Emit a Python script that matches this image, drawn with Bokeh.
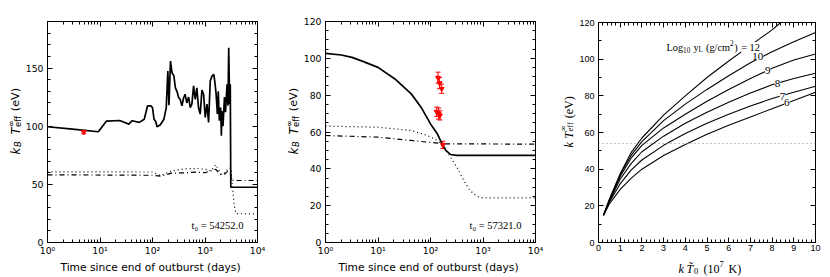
from math import pi
from bokeh.plotting import figure
from bokeh.layouts import row, column
from bokeh.models import (Range1d, LinearAxis, LogAxis, Label, CustomJSTickFormatter,
                          SingleIntervalTicker, LogTicker, Span, ColumnDataSource,
                          Whisker, TeeHead)
from bokeh.embed import file_html
from bokeh.resources import INLINE

# ---------------- data ----------------
# panel 1 (t0 = 54252.0)
p1_solid_t = [1, 3, 9.3, 13.3, 23.7, 35.5, 41, 56, 69.6, 80.6, 93, 100, 107, 115, 122, 140, 165,
              183, 196, 206, 220, 235, 255, 273, 292, 315, 337, 364, 389, 418, 450, 487, 524,
              562, 606, 652, 700, 752, 810, 874, 940, 1010, 1090, 1170, 1260, 1360, 1470, 1540,
              1630, 1720, 1790, 1880, 1990, 2050, 2100, 2200, 2350, 2460, 2630, 2740, 2830,
              2950, 3030, 3100, 10000]
p1_solid_T = [99.5, 97.5, 95.2, 104.4, 104.9, 101.8, 104.7, 103.3, 106, 117.5, 117.5, 116, 106,
              104, 99.5, 101, 106, 116, 147.5, 118, 156, 146, 143.5, 133, 130, 124.6, 123, 117.5,
              124, 127.5, 120, 125, 116, 119, 134.6, 123, 133, 116, 110.4, 131, 127.5, 107.5,
              119, 103.2, 139, 143, 144.6, 138, 127.5, 110.4, 130, 104.7, 116, 91.8, 113, 100,
              125, 112, 136, 117.5, 167.4, 119, 136, 47.5, 47.5]
p1_dot_t = [1, 100, 143, 180, 229, 300, 450, 700, 1000, 1300, 1590, 1800, 2040, 2400, 2800, 3100,
            3300, 3600, 3900, 10000]
p1_dot_T = [60.8, 60.6, 57.5, 59.5, 61.4, 62.5, 63.5, 63.5, 63, 61.5, 67, 63, 58.5, 60, 64, 64,
            50, 32, 24.8, 24.5]
p1_dd_t = [1, 100, 143, 229, 450, 700, 1000, 1590, 2040, 2400, 2800, 3100, 3150, 10000]
p1_dd_T = [58.2, 57.8, 57, 59.6, 60, 60.5, 60, 63, 58, 59, 62, 62, 53.3, 53.3]
p1_obs_t = [4.9]
p1_obs_T = [95.0]
p1_obs_err = [1.5]

# panel 2 (t0 = 57321.0)
p2_solid_t = [1, 2, 3.2, 5, 10, 21, 43, 66, 100, 135, 166, 195, 240, 316, 10000]
p2_solid_T = [102.7, 101.8, 100.5, 98.5, 95.1, 88.8, 80.7, 73.5, 64.4, 59, 53.6, 50, 47.8, 47.3, 47.3]
p2_dot_t = [1, 10, 43, 87, 135, 182, 240, 316, 427, 562, 759, 1000, 10000]
p2_dot_T = [63.2, 62.6, 60.8, 58.1, 55.4, 51.8, 46.4, 41, 33.8, 28.3, 25.1, 24.2, 24.2]
p2_dd_t = [1, 10, 43, 87, 182, 10000]
p2_dd_T = [58.1, 57.2, 55.4, 54.5, 53.6, 53.4]
p2_obs_t = [139, 149, 163, 131, 143, 151, 172]
p2_obs_T = [89.5, 86.5, 83.5, 71, 70, 69, 53]
p2_obs_err = [3, 3, 2.5, 2.5, 3, 2.5, 2]

# panel 3
p3_x = [0.23, 0.5, 1, 1.5, 2, 3, 4, 5, 6, 7, 8, 9, 10]
p3_y10 = [14.9, 23.3, 37, 47.5, 55, 66.5, 75.5, 83.5, 91, 98, 104, 109.5, 114.6]
p3_y9 = [14.9, 23, 36, 46, 53, 62.5, 70, 77, 83.5, 89.5, 95, 99.5, 102.8]
p3_y8 = [14.9, 22.5, 34.5, 43, 49.5, 58, 65, 71, 76.5, 81.5, 86, 89.5, 92.3]
p3_y7 = [14.9, 22, 32, 39.5, 45, 53, 59.5, 65, 70, 74.5, 78.5, 82, 85.2]
p3_y6 = [14.9, 21, 29, 35, 40, 47.5, 53.5, 59, 64, 68.5, 73, 77.5, 81.9]
p3_x12 = [0.23, 0.5, 1, 1.5, 2, 3, 4, 5, 6, 7, 8, 8.4]
p3_y12 = [14.9, 23.5, 37.5, 49, 57, 69.5, 80, 90, 99, 107.5, 116, 120]
p3_curve_labels = ["10", "9", "8", "7", "6"]
p3_label_x = [7.34, 7.8, 8.25, 8.48, 8.68]
p3_label_y = [101.5, 93.7, 86.5, 79.6, 76.6]
p3_ref_level = 54.0

SANS = "DejaVu Sans"
SERIF = "Liberation Serif"
HELV = "Liberation Sans"
TICK_PX = "9.3px"

blank = CustomJSTickFormatter(code="return '';")
logfmt = CustomJSTickFormatter(code="""
const s = ['\u2070','\u00b9','\u00b2','\u00b3','\u2074'];
const e = Math.round(Math.log10(tick));
return '10' + s[e];
""")


def style_tick(ax, font, size=TICK_PX, maj=5, mnr=3, standoff=2):
    ax.major_tick_in = maj
    ax.major_tick_out = 0
    ax.minor_tick_in = mnr
    ax.minor_tick_out = 0
    ax.major_tick_line_color = "black"
    ax.minor_tick_line_color = "black"
    ax.axis_line_color = "black"
    ax.major_label_text_font = font
    ax.major_label_text_font_size = size
    ax.major_label_text_color = "black"
    ax.major_label_standoff = standoff


def lab(fig, text, x, y, size, font, style="normal", angle=0.0, align="left",
        baseline="alphabetic", units="screen", bg=None):
    L = Label(x=x, y=y, x_units=units, y_units=units, text=text, angle=angle,
              text_font=font, text_font_size=f"{size:.1f}px", text_font_style=style,
              text_align=align, text_baseline=baseline, text_color="black")
    if bg is not None:
        L.background_fill_color = bg
    fig.add_layout(L)


def blank_fig(w, h):
    f = figure(width=w, height=h, x_range=Range1d(0, w), y_range=Range1d(0, h),
               output_backend="svg", toolbar_location=None,
               x_axis_location=None, y_axis_location=None,
               min_border_left=0, min_border_right=0, min_border_top=0, min_border_bottom=0)
    f.outline_line_color = None
    f.background_fill_color = "white"
    f.border_fill_color = "white"
    f.grid.visible = False
    return f


H_MAIN = 258
H_XLAB = 19


def math_ylabel(w, xb):
    # k_B T_eff^inf (eV), rotated, reading upward
    f = blank_fig(w, H_MAIN)
    lab(f, "k", xb, 88, 12, SANS, "italic", pi / 2)
    lab(f, "B", xb + 2.5, 95.5, 8.4, SANS, "italic", pi / 2)
    lab(f, "T", xb, 108, 12, SANS, "italic", pi / 2)
    lab(f, "\u221e", xb - 4.8, 115.5, 8.4, SANS, "normal", pi / 2)
    lab(f, "eff", xb + 2.5, 115.5, 8.4, SANS, "normal", pi / 2)
    lab(f, "(eV)", xb, 131.3, 11.2, SANS, "normal", pi / 2)
    return f


def xlabel_fig(w, cx):
    f = blank_fig(w, H_XLAB)
    lab(f, "Time since end of outburst (days)", cx, 10, 10.7, SANS, "normal", 0, "center")
    return f


def time_panel(ymax, yint, ynminor, st, sT, dt, dT, ddt, ddT, ot, oT, oe, t0text):
    p = figure(width=248, height=H_MAIN, x_axis_type="log", x_range=Range1d(1, 1e4),
               y_range=Range1d(0, ymax), output_backend="svg", toolbar_location=None,
               min_border_left=21, min_border_right=13, min_border_top=21, min_border_bottom=16)
    p.background_fill_color = "white"
    p.border_fill_color = "white"
    p.outline_line_color = "black"
    p.grid.visible = False
    p.xaxis.ticker = LogTicker(num_minor_ticks=10)
    p.xaxis.formatter = logfmt
    p.yaxis.ticker = SingleIntervalTicker(interval=yint, num_minor_ticks=ynminor)
    style_tick(p.xaxis[0], SANS, standoff=2)
    style_tick(p.yaxis[0], SANS, standoff=4)
    top = LogAxis(ticker=LogTicker(num_minor_ticks=10), formatter=blank)
    right = LinearAxis(ticker=SingleIntervalTicker(interval=yint, num_minor_ticks=ynminor), formatter=blank)
    style_tick(top, SANS, standoff=0)
    style_tick(right, SANS, standoff=0)
    p.add_layout(top, "above")
    p.add_layout(right, "right")

    p.line(dt, dT, line_color="black", line_width=1.2, line_dash="1 3")
    p.line(ddt, ddT, line_color="black", line_width=1.2, line_dash="5 3 1 3")
    p.line(st, sT, line_color="black", line_width=1.7)

    src = ColumnDataSource(dict(t=ot, T=oT, lo=[a - b for a, b in zip(oT, oe)],
                                hi=[a + b for a, b in zip(oT, oe)]))
    w = Whisker(source=src, base="t", lower="lo", upper="hi", line_color="red", line_width=1,
                upper_head=TeeHead(size=5, line_color="red", line_width=1),
                lower_head=TeeHead(size=5, line_color="red", line_width=1))
    p.add_layout(w)
    p.scatter("t", "T", source=src, marker="inverted_triangle", size=5, fill_color="red",
              line_color="red")

    lab(p, t0text, 5400, ymax * 0.075, 10.5, SERIF, "normal", 0, "right", "middle", "data")
    return p


f1 = time_panel(190, 50, 5, p1_solid_t, p1_solid_T, p1_dot_t, p1_dot_T,
                p1_dd_t, p1_dd_T, p1_obs_t, p1_obs_T, p1_obs_err, "t\u2080 = 54252.0")
g1 = column(row(math_ylabel(22, 15), f1), xlabel_fig(270, 150))

f2 = time_panel(120, 20, 4, p2_solid_t, p2_solid_T, p2_dot_t, p2_dot_T,
                p2_dd_t, p2_dd_T, p2_obs_t, p2_obs_T, p2_obs_err, "t\u2080 = 57321.0")
g2 = column(row(math_ylabel(30, 23), f2), xlabel_fig(278, 158))

# ---------------- panel 3 ----------------
f3 = figure(width=254, height=H_MAIN, x_range=Range1d(0, 10), y_range=Range1d(0, 120),
            output_backend="svg", toolbar_location=None,
            min_border_left=22, min_border_right=15, min_border_top=22, min_border_bottom=16)
f3.background_fill_color = "white"
f3.border_fill_color = "white"
f3.outline_line_color = "black"
f3.grid.visible = False
f3.xaxis.ticker = SingleIntervalTicker(interval=1, num_minor_ticks=5)
f3.yaxis.ticker = SingleIntervalTicker(interval=20, num_minor_ticks=2)
style_tick(f3.xaxis[0], HELV, "9px", standoff=2)
style_tick(f3.yaxis[0], HELV, "9px", standoff=4)
t3 = LinearAxis(ticker=SingleIntervalTicker(interval=1, num_minor_ticks=5), formatter=blank)
r3 = LinearAxis(ticker=SingleIntervalTicker(interval=20, num_minor_ticks=2), formatter=blank)
style_tick(t3, HELV, standoff=0)
style_tick(r3, HELV, standoff=0)
f3.add_layout(t3, "above")
f3.add_layout(r3, "right")

f3.add_layout(Span(location=p3_ref_level, dimension="width", line_color="#888888",
                   line_width=1, line_dash="1 3"))
f3.line(p3_x12, p3_y12, line_color="black", line_width=1.1)
for ys in [p3_y10, p3_y9, p3_y8, p3_y7, p3_y6]:
    f3.line(p3_x, ys, line_color="black", line_width=1.1)

for t, x, y in zip(p3_curve_labels, p3_label_x, p3_label_y):
    lab(f3, t, x, y, 11, SERIF, "normal", 0, "center", "middle", "data", bg="white")

# Log10 yL (g/cm^2) = 12 annotation
F = 10.3
xs = 68
yb = 242 - 47
lab(f3, "Log", xs, yb, F, SERIF); xs += 1.611 * F
lab(f3, "10", xs, yb - 0.2 * F, 0.7 * F, SERIF); xs += 0.7 * F + 0.3 * F
lab(f3, "y", xs, yb, F, SERIF); xs += 0.5 * F
lab(f3, "L", xs, yb - 0.2 * F, 0.7 * F, SERIF); xs += 0.428 * F + 0.3 * F
lab(f3, "(g/cm", xs, yb, F, SERIF); xs += 2.333 * F
lab(f3, "2", xs, yb + 0.4 * F, 0.7 * F, SERIF); xs += 0.4 * F
lab(f3, ")", xs, yb, F, SERIF); xs += 0.333 * F + 0.35 * F
lab(f3, "= 12", xs, yb, F, SERIF, bg="white")

# y label figure for panel 3: k T_eff^inf (eV)
yl3 = blank_fig(28, H_MAIN)
F = 12
xb = 20
y = 258 - 163
lab(yl3, "k", xb, y, F, SERIF, "italic", pi / 2); y += 0.44 * F + 0.3 * F
lab(yl3, "T", xb, y, F, SERIF, "italic", pi / 2); y += 0.6 * F
lab(yl3, "\u221e", xb - 0.45 * F, y, 0.7 * F, SERIF, "normal", pi / 2)
lab(yl3, "eff", xb + 0.2 * F, y, 0.7 * F, SERIF, "normal", pi / 2); y += 0.8 * F + 0.3 * F
lab(yl3, "(eV)", xb, y, F, SERIF, "normal", pi / 2)

# x label figure for panel 3: k T~0 (10^7 K)
xl3 = blank_fig(282, H_XLAB)
F = 12
yb = 9
lab(xl3, "k", 678 - 548, yb, F, SERIF, "italic")
lab(xl3, "T\u0303", 686 - 548, yb, F, SERIF, "italic")
lab(xl3, "0", 693.5 - 548, yb - 0.2 * F, 0.7 * F, SERIF)
lab(xl3, "(10", 703 - 548, yb, F, SERIF)
lab(xl3, "7", 719 - 548, yb + 0.4 * F, 0.7 * F, SERIF)
lab(xl3, "K)", 728 - 548, yb, F, SERIF)

g3 = column(row(yl3, f3), xl3)

layout = row(g1, g2, g3)
open("out.html", "w").write(file_html(layout, INLINE))
